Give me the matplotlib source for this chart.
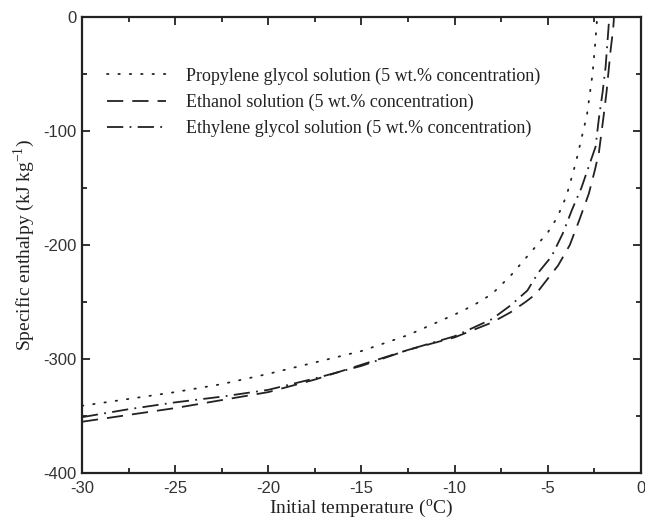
import matplotlib
matplotlib.use("Agg")
import matplotlib.pyplot as plt
from matplotlib.ticker import MultipleLocator

plt.rcParams['mathtext.fontset'] = 'custom'
plt.rcParams['mathtext.rm'] = 'Liberation Serif'
plt.rcParams['axes.unicode_minus'] = False

# Propylene glycol solution (dotted)
pg_T = [-30, -27.5, -25, -22.5, -20, -17.5, -15, -12.5, -10, -9, -8, -7, -6, -5, -4.5, -4, -3.5, -3.2, -2.9, -2.6, -2.45, -2.35]
pg_H = [-341, -335, -329, -322, -313, -303, -293, -279, -261, -253, -243, -227, -208, -189, -176, -157, -128, -107, -86, -50, -22, 0]

# Ethanol solution (dashed)
et_T = [-30, -27.5, -25, -22.5, -20, -17.5, -15, -12.5, -10, -8, -7, -6.2, -5.8, -5.5, -4.45, -3.82, -3.33, -2.8, -2.47, -2.26, -2.03, -1.85, -1.63, -1.49, -1.45]
et_H = [-355, -349, -343, -336, -329, -318, -305, -292, -281, -268, -259, -250, -245, -240, -218, -200, -179, -155, -134, -119, -90, -66, -29, -10, 0]

# Ethylene glycol solution (dash-dot)
eg_T = [-30, -27.5, -25, -22.5, -20, -17.5, -15, -12.5, -10, -8, -7, -6.1, -5.5, -4.8, -4.2, -3.7, -3.2, -2.8, -2.44, -2.26, -2.06, -1.9, -1.7]
eg_H = [-351, -344, -338, -333, -327, -317, -306, -292, -280, -265, -253, -240, -224, -210, -190, -169, -150, -131, -114, -89, -66, -44, 0]

labels = ['Propylene glycol solution (5 wt.% concentration)',
          'Ethanol solution (5 wt.% concentration)',
          'Ethylene glycol solution (5 wt.% concentration)']

fig = plt.figure(figsize=(6.45, 5.28), dpi=100)
ax = fig.add_axes([0.127, 0.104, 0.8668, 0.864])

lw = 1.3
ax.plot(pg_T, pg_H, color='#222222', lw=lw, linestyle=(0, (0.8, 5.5)), dash_capstyle='round', label=labels[0])
ax.plot(et_T, et_H, color='#222222', lw=lw, linestyle=(0, (9, 5)), label=labels[1])
ax.plot(eg_T, eg_H, color='#222222', lw=lw, linestyle=(0, (9, 3.5, 1, 3.5)), label=labels[2])

ax.set_xlim(-30, 0)
ax.set_ylim(-400, 0)
ax.xaxis.set_major_locator(MultipleLocator(5))
ax.xaxis.set_minor_locator(MultipleLocator(2.5))
ax.yaxis.set_major_locator(MultipleLocator(100))
ax.yaxis.set_minor_locator(MultipleLocator(50))
ax.tick_params(which='both', direction='in', top=True, right=True, width=1.3, colors='#222222')
ax.tick_params(which='major', length=6)
ax.tick_params(which='minor', length=3.5)
for lab in ax.get_xticklabels() + ax.get_yticklabels():
    lab.set_fontfamily('Liberation Sans')
    lab.set_fontsize(12)
    lab.set_color('#333333')
ax.tick_params(axis='x', pad=6)
ax.tick_params(axis='y', pad=4)
for s in ax.spines.values():
    s.set_linewidth(1.6)
    s.set_color('#222222')

ax.set_xlabel(r'Initial temperature ($^{\mathregular{o}}$C)', fontfamily='Liberation Serif', fontsize=14, color='#222222', labelpad=1)
ax.set_ylabel(r'Specific enthalpy (kJ kg$^{\mathregular{-1}}$)', fontfamily='Liberation Serif', fontsize=14, color='#222222', labelpad=4)

leg = ax.legend(loc='upper left', bbox_to_anchor=(0.0315, 0.905), frameon=False,
                prop={'family': 'Liberation Serif', 'size': 13}, handlelength=3.3,
                handletextpad=1.1, labelspacing=0.5, borderaxespad=0)
for t in leg.get_texts():
    t.set_color('#222222')

fig.savefig('out.png', dpi=100)
